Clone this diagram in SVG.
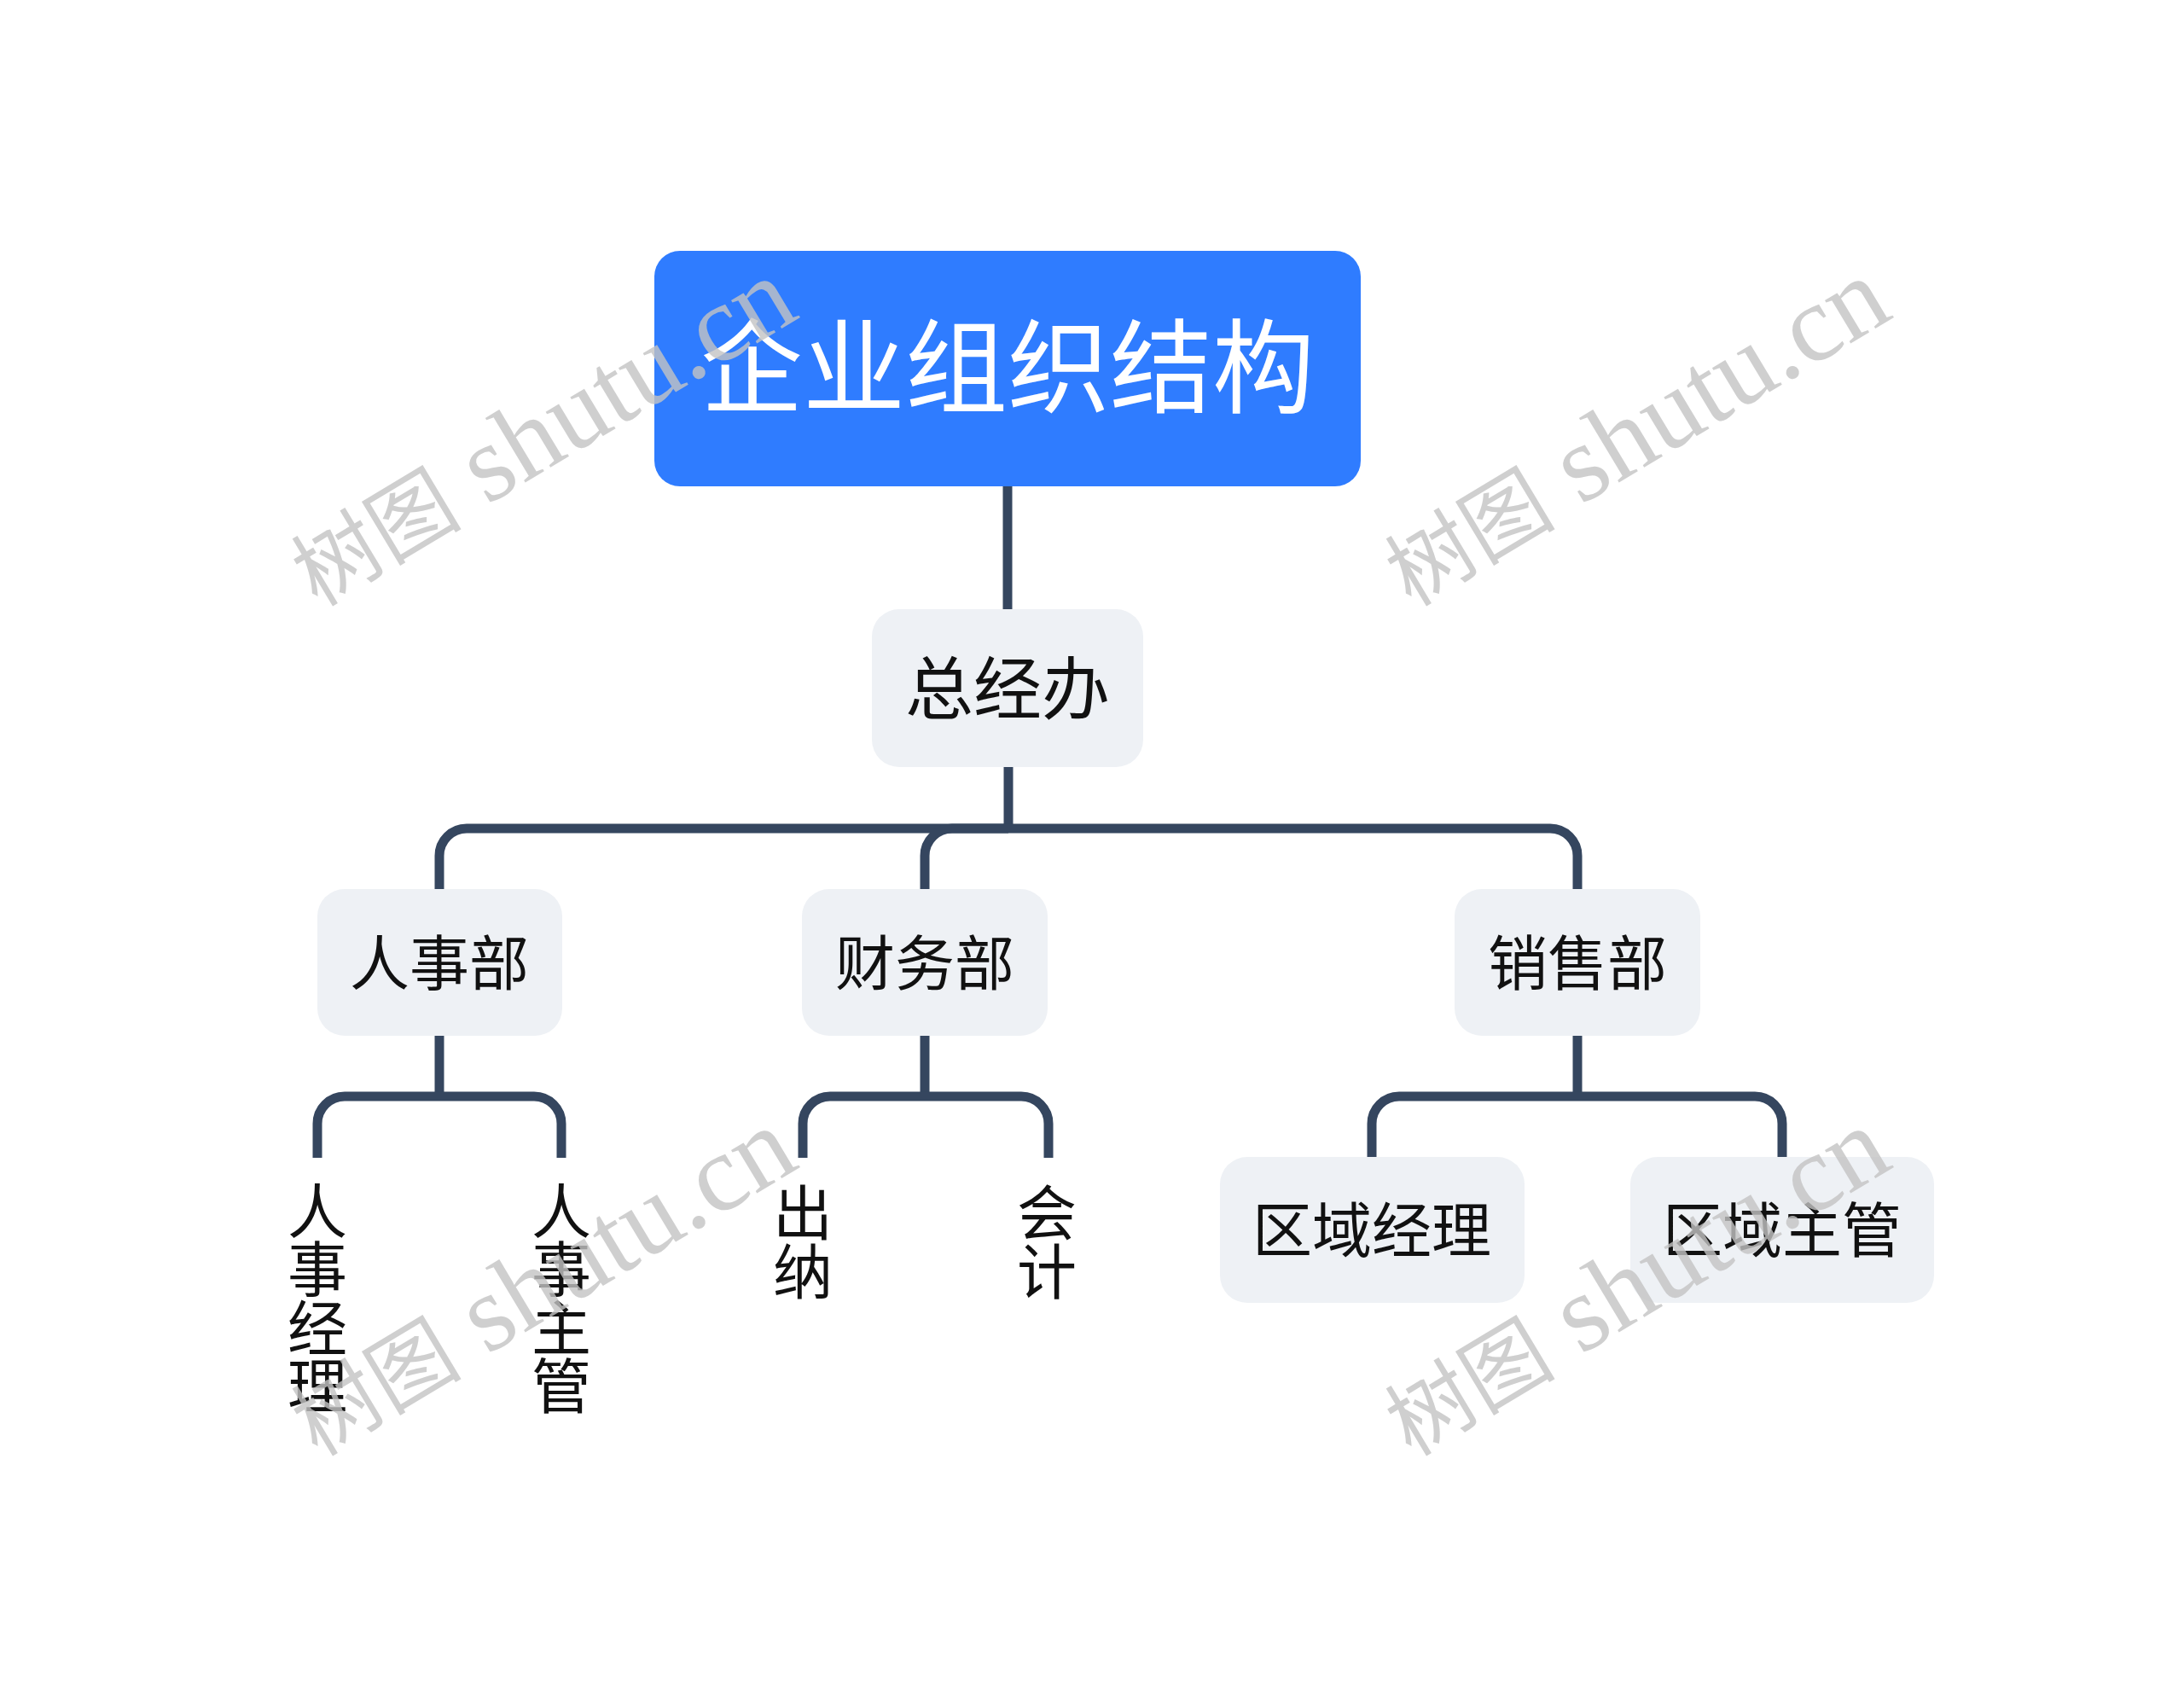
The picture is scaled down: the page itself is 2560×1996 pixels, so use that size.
<svg xmlns="http://www.w3.org/2000/svg" width="2560" height="1996" viewBox="0 0 2560 1996">
<style>
.box{fill:#eef1f5}
.root{fill:#2f7cff}
.t{font-family:"Noto Sans CJK SC","Microsoft YaHei",sans-serif;fill:#111;text-anchor:middle}
.lbl{font-size:70px}
.conn{fill:none;stroke:#35465f;stroke-width:11;stroke-linecap:butt}
.wm{fill:#c4c4c4;opacity:0.8}
.wc{font-family:"Noto Sans CJK SC",serif;font-size:100px}
.wl{font-family:"Liberation Serif","Times New Roman",serif;font-size:128px}
</style>
<rect width="2560" height="1996" fill="#ffffff"/>
<g id="connectors">
<path class="conn" d="M1181 570 V714"/>
<path class="conn" d="M1182 899 V971"/>
<path class="conn" d="M1182 971 H547 A32 32 0 0 0 515 1003 V1042"/>
<path class="conn" d="M1182 971 H1116 A32 32 0 0 0 1084 1003 V1042"/>
<path class="conn" d="M1182 971 H1817 A32 32 0 0 1 1849 1003 V1042"/>
<path class="conn" d="M515 1214 V1285"/>
<path class="conn" d="M515 1285 H404 A32 32 0 0 0 372 1317 V1357"/>
<path class="conn" d="M515 1285 H626 A32 32 0 0 1 658 1317 V1357"/>
<path class="conn" d="M1084 1214 V1285"/>
<path class="conn" d="M1084 1285 H973 A32 32 0 0 0 941 1317 V1357"/>
<path class="conn" d="M1084 1285 H1197 A32 32 0 0 1 1229 1317 V1357"/>
<path class="conn" d="M1849 1214 V1285"/>
<path class="conn" d="M1849 1285 H1640 A32 32 0 0 0 1608 1317 V1357"/>
<path class="conn" d="M1849 1285 H2057 A32 32 0 0 1 2089 1317 V1357"/>
</g>
<g id="root">
<rect class="root" x="767" y="294" width="828" height="276" rx="30"/>
<text class="t" x="1181" y="475" font-size="120" style="fill:#ffffff">企业组织结构</text>
</g>
<g id="zongjingban">
<rect class="box" x="1022" y="714" width="318" height="185" rx="32"/>
<text class="t" x="1181" y="836" font-size="80">总经办</text>
</g>
<g id="renshibu">
<rect class="box" x="372" y="1042" width="287" height="172" rx="32"/>
<text class="t lbl" x="515" y="1155">人事部</text>
</g>
<g id="caiwubu">
<rect class="box" x="940" y="1042" width="288" height="172" rx="32"/>
<text class="t lbl" x="1084" y="1155">财务部</text>
</g>
<g id="xiaoshoubu">
<rect class="box" x="1705" y="1042" width="288" height="172" rx="32"/>
<text class="t lbl" x="1849" y="1155">销售部</text>
</g>
<g id="renshijingli">
<text class="t lbl"><tspan x="372" y="1446">人</tspan><tspan x="372" y="1514">事</tspan><tspan x="372" y="1583">经</tspan><tspan x="372" y="1651">理</tspan></text>
</g>
<g id="renshizhuguan">
<text class="t lbl"><tspan x="658" y="1446">人</tspan><tspan x="658" y="1514">事</tspan><tspan x="658" y="1583">主</tspan><tspan x="658" y="1651">管</tspan></text>
</g>
<g id="chuna">
<text class="t lbl"><tspan x="941" y="1448">出</tspan><tspan x="941" y="1517">纳</tspan></text>
</g>
<g id="kuaiji">
<text class="t lbl"><tspan x="1227" y="1448">会</tspan><tspan x="1227" y="1517">计</tspan></text>
</g>
<g id="quyujingli">
<rect class="box" x="1430" y="1356" width="357" height="171" rx="32"/>
<text class="t lbl" x="1608" y="1468">区域经理</text>
</g>
<g id="quyuzhuguan">
<rect class="box" x="1911" y="1356" width="356" height="171" rx="32"/>
<text class="t lbl" x="2089" y="1468">区域主管</text>
</g>
<g id="watermarks">
<text class="wm" transform="translate(372,712) rotate(-31)"><tspan class="wc">树图</tspan><tspan class="wl"> shutu.cn</tspan></text>
<text class="wm" transform="translate(1654,712) rotate(-31)"><tspan class="wc">树图</tspan><tspan class="wl"> shutu.cn</tspan></text>
<text class="wm" transform="translate(372,1708) rotate(-31)"><tspan class="wc">树图</tspan><tspan class="wl"> shutu.cn</tspan></text>
<text class="wm" transform="translate(1654,1708) rotate(-31)"><tspan class="wc">树图</tspan><tspan class="wl"> shutu.cn</tspan></text>
</g>
</svg>
